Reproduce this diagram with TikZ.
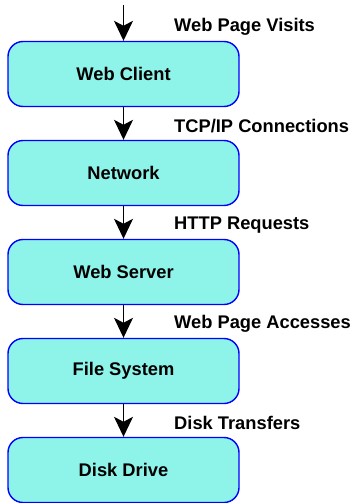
\documentclass[tikz,border=0pt]{standalone}
\usepackage{fontspec}
\setmainfont{Liberation Sans}
\usetikzlibrary{arrows.meta}
\definecolor{boxfill}{HTML}{8EF4EA}
\begin{document}
\begin{tikzpicture}[x=1pt,y=-1pt,
  layer/.style={draw=blue, line width=1.4pt, fill=boxfill, rounded corners=15pt,
    minimum width=231pt, minimum height=65pt, inner sep=0pt,
    font=\fontsize{18.3}{20}\selectfont\bfseries},
  flow/.style={draw=black, line width=1.4pt,
    -{Stealth[length=20pt, width=19pt, inset=5pt]}},
  lbl/.style={anchor=west, inner sep=0pt, font=\fontsize{18.3}{20}\selectfont\bfseries}]
\useasboundingbox (0,0) rectangle (356,503);
\node[layer] (client) at (123.5,74) {Web Client};
\node[layer] (net) at (123.5,173) {Network};
\node[layer] (server) at (123.5,272) {Web Server};
\node[layer] (fs) at (123.5,371) {File System};
\node[layer] (disk) at (123.5,470) {Disk Drive};
\coordinate (in) at (123.5,5);
\draw[flow] (in) -- (client.north);
\draw[flow] (client.south) -- (net.north);
\draw[flow] (net.south) -- (server.north);
\draw[flow] (server.south) -- (fs.north);
\draw[flow] (fs.south) -- (disk.north);
\node[lbl] (l1) at (174,27) {Web Page Visits};
\node[lbl] (l2) at (174,126) {TCP/IP Connections};
\node[lbl] (l3) at (174,225) {HTTP Requests};
\node[lbl] (l4) at (174,324) {Web Page Accesses};
\node[lbl] (l5) at (174,423) {Disk Transfers};
\end{tikzpicture}
\end{document}
